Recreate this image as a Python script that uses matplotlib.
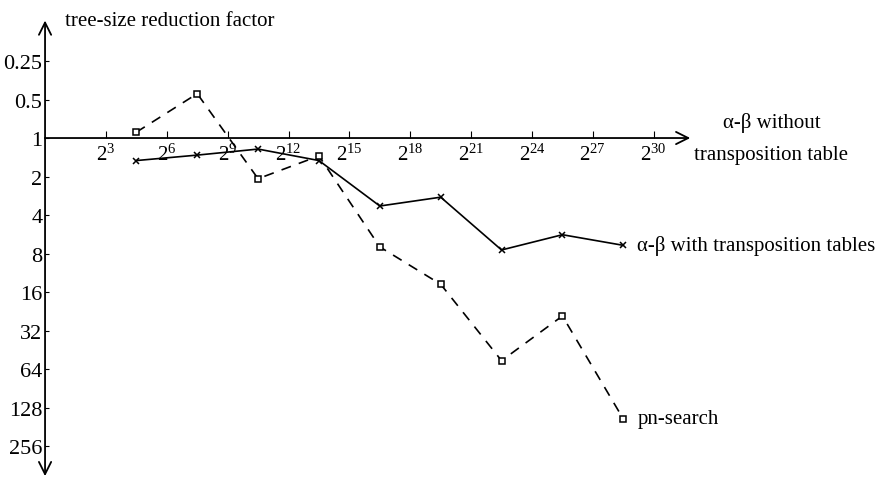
import numpy as np
import matplotlib.pyplot as plt

plt.rcParams['font.family'] = ['Liberation Serif', 'DejaVu Serif']
plt.rcParams['mathtext.fontset'] = 'custom'
plt.rcParams['mathtext.rm'] = 'Liberation Serif'
plt.rcParams['mathtext.it'] = 'Liberation Serif:italic'

# x positions are powers of two (exponents), y is the reduction factor
x_exponents = [4.5, 7.5, 10.5, 13.5, 16.5, 19.5, 22.5, 25.5, 28.5]
ab_tt = [1.5, 1.36, 1.22, 1.5, 3.4, 2.9, 7.5, 5.7, 6.9]
pn_search = [0.9, 0.45, 2.08, 1.38, 7.1, 13.9, 55, 24.6, 157]

x_tick_exp = [3, 6, 9, 12, 15, 18, 21, 24, 27, 30]
y_ticks = [0.25, 0.5, 1, 2, 4, 8, 16, 32, 64, 128, 256]
y_tick_labels = ["0.25", "0.5", "1", "2", "4", "8", "16", "32", "64", "128", "256"]

x_vals = [2.0 ** e for e in x_exponents]

fig = plt.figure(figsize=(8.83, 4.81), dpi=100)
ax = fig.add_axes([0, 0, 1, 1])
ax.set_xscale('log', base=2)
ax.set_yscale('log', base=2)
ax.set_xlim(2 ** -2.22, 2 ** 41.3)
ax.set_ylim(2 ** 8.88, 2 ** -3.61)
ax.patch.set_alpha(0)

# axes lines through origin (x = 2^0, y = 1)
for side in ['top', 'right']:
    ax.spines[side].set_visible(False)
ax.spines['left'].set_position(('data', 1))
ax.spines['bottom'].set_position(('data', 1))
ax.spines['left'].set_color('none')
ax.spines['bottom'].set_color('none')

ax.set_xticks([2.0 ** e for e in x_tick_exp])
ax.set_xticklabels([r"$2^{%d}$" % e for e in x_tick_exp])
ax.set_yticks(y_ticks)
ax.set_yticklabels(y_tick_labels)
ax.minorticks_off()
ax.tick_params(axis='x', direction='in', length=5, width=0.8, pad=4, labelsize=15)
ax.tick_params(axis='y', direction='in', length=3, width=0.8, pad=2, labelsize=16)

arrow = dict(arrowstyle='->', color='black', lw=1.3, mutation_scale=22,
             shrinkA=0, shrinkB=0)
ax.annotate('', xy=(1, 2 ** -3.05), xytext=(1, 1), arrowprops=arrow)
ax.annotate('', xy=(1, 2 ** 8.78), xytext=(1, 1), arrowprops=arrow)
ax.annotate('', xy=(2 ** 31.8, 1), xytext=(1, 1), arrowprops=arrow)

ax.plot(x_vals, ab_tt, color='black', lw=1.2, marker='x', ms=5, mew=1.1)
ax.plot(x_vals, pn_search, color='black', lw=1.2, ls=(0, (6, 5)),
        marker='s', ms=4.5, mfc='white', mew=1.1)

ax.text(2 ** 1.0, 2 ** -3.05, "tree-size reduction factor", fontsize=15,
        ha='left', va='center')
ax.text(2 ** 35.8, 2 ** -0.42, "α-β without", fontsize=15, ha='center', va='center')
ax.text(2 ** 35.8, 2 ** 0.42, "transposition table", fontsize=15, ha='center', va='center')
ax.text(2 ** 29.2, 6.9, "α-β with transposition tables", fontsize=15,
        ha='left', va='center')
ax.text(2 ** 29.2, 157, "pn-search", fontsize=15, ha='left', va='center')

fig.savefig("out.png", dpi=100)
